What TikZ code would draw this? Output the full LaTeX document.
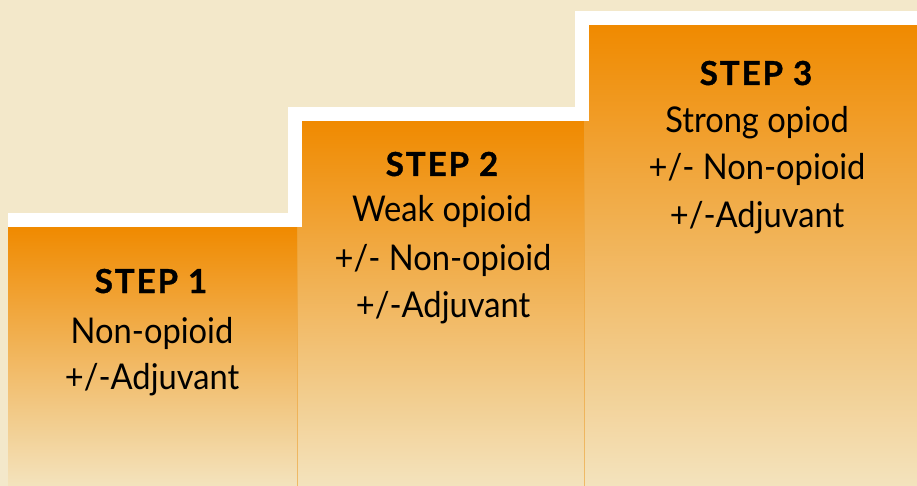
\documentclass[tikz,border=0pt]{standalone}
\usepackage{fontspec}
\setmainfont{Lato}
\definecolor{bgbeige}{HTML}{F3E8CA}
\definecolor{toporange}{HTML}{F08A00}
\definecolor{botbeige}{HTML}{F3E3BD}
\definecolor{edgeorange}{HTML}{EDA030}
\tikzset{
  stepbox/.style={top color=toporange, bottom color=botbeige, draw=none},
  steptitle/.style={anchor=base, inner sep=0pt, font=\fontsize{33}{38}\selectfont\bfseries\addfontfeatures{LetterSpace=6,FakeBold=1.2}},
  steptext/.style={anchor=base, inner sep=0pt, font=\fontsize{35.5}{42}\selectfont\addfontfeatures{FakeStretch=0.92}},
  stairline/.style={white, line width=14pt, line join=miter},
  boxedge/.style={edgeorange, line width=1pt, opacity=0.6}
}
\begin{document}
\begin{tikzpicture}[x=1pt,y=-1pt]
\useasboundingbox (0,0) rectangle (917,486);
\fill[bgbeige] (0,0) rectangle (917,486);
% boxes
\shade[stepbox] (8,227) rectangle (297,486);
\shade[stepbox] (297,121) rectangle (584,486);
\shade[stepbox] (584,25) rectangle (917,486);
\draw[boxedge] (297,227) -- (297,486);
\draw[boxedge] (584,121) -- (584,486);
% white stair outline
\coordinate (w0) at (8,220);
\coordinate (w1) at (295,220);
\coordinate (w2) at (295,114);
\coordinate (w3) at (582,114);
\coordinate (w4) at (582,18);
\coordinate (w5) at (917,18);
\draw[stairline] (w0) -- (w1) -- (w2) -- (w3) -- (w4) -- (w5);
% texts step 1
\node[steptitle] (s1t) at (151,293) {STEP 1};
\node[steptext] (s1a) at (152,343) {Non-opioid};
\node[steptext] (s1b) at (152,389) {+/-Adjuvant};
% step 2
\node[steptitle] (s2t) at (442,176) {STEP 2};
\node[steptext] (s2a) at (442,222) {Weak opioid};
\node[steptext] (s2b) at (443,270) {+/- Non-opioid};
\node[steptext] (s2c) at (443,317) {+/-Adjuvant};
% step 3
\node[steptitle] (s3t) at (756,85) {STEP 3};
\node[steptext] (s3a) at (757,133) {Strong opiod};
\node[steptext] (s3b) at (757,180) {+/- Non-opioid};
\node[steptext] (s3c) at (757,227) {+/-Adjuvant};
\end{tikzpicture}
\end{document}
